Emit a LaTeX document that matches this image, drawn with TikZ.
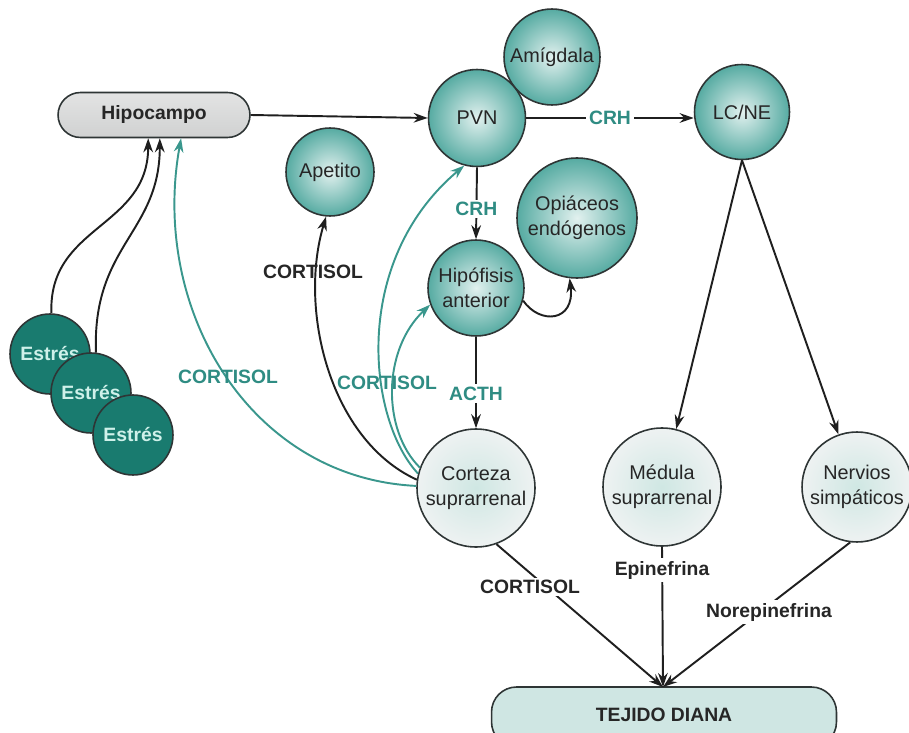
\documentclass[tikz,border=0pt]{standalone}
\usepackage{fontspec}
\setmainfont{Liberation Sans}
\usetikzlibrary{arrows.meta,calc,shapes.geometric}
\definecolor{tealline}{HTML}{3A978D}
\definecolor{tealtext}{HTML}{2F8C83}
\definecolor{tealouter}{HTML}{56ABA2}
\definecolor{tealinner}{HTML}{E2F1EF}
\definecolor{paleouter}{HTML}{EEF2F2}
\definecolor{paleinner}{HTML}{CFE7E3}
\definecolor{estresfill}{HTML}{197B6F}
\definecolor{estrestext}{HTML}{CFF1EA}
\definecolor{outline}{HTML}{2E3535}
\definecolor{hipofill}{HTML}{D0D1D1}
\definecolor{dianafill}{HTML}{CFE6E3}
\begin{document}
\begin{tikzpicture}[x=0.02cm,y=-0.02cm,
  font=\fontsize{11.3}{14}\selectfont,
  circ/.style={circle,draw=outline,line width=0.9pt,align=center,inner sep=0pt,text=black!85},
  tealcirc/.style={circ,inner color=tealinner,outer color=tealouter},
  palecirc/.style={circ,inner color=paleinner,outer color=paleouter},
  estres/.style={circle,draw=outline,line width=0.9pt,fill=estresfill,minimum size=1.6cm,inner sep=0pt,
    text=estrestext,font=\fontsize{11}{13}\bfseries},
  conn/.style={line width=1.1pt,draw=black!88,-{Stealth[length=8pt,width=5.5pt]}},
  tconn/.style={line width=1.1pt,draw=tealline,-{Stealth[length=8pt,width=5.5pt]}},
  blab/.style={font=\fontsize{11}{13}\bfseries,fill=white,inner sep=1.5pt,text=black!85},
  tlab/.style={font=\fontsize{11}{13}\bfseries,fill=white,inner sep=1.5pt,text=tealtext},
]
\useasboundingbox (0,0) rectangle (909,733);

% nodes
\node[draw=outline,line width=0.9pt,rounded corners=0.45cm,top color=hipofill!60,bottom color=hipofill,
  minimum width=3.84cm,minimum height=0.9cm,font=\fontsize{11}{13}\bfseries,text=black!85] (hipo) at (154,115) {Hipocampo};
\node[tealcirc,minimum size=1.92cm] (amig) at (552,57) {Amígdala};
\node[tealcirc,minimum size=1.94cm] (pvn) at (477,118) {PVN};
\node[tealcirc,minimum size=1.9cm] (lcne) at (742,112) {LC/NE};
\node[tealcirc,minimum size=1.76cm] (apet) at (330,172) {Apetito};
\node[tealcirc,minimum size=2.4cm] (opia) at (577,218) {Opiáceos\\endógenos};
\node[tealcirc,minimum size=1.92cm] (hipof) at (476,288) {Hipófisis\\anterior};
\node[palecirc,minimum size=2.36cm] (cort) at (476,488) {Corteza\\suprarrenal};
\node[palecirc,minimum size=2.36cm] (med) at (662,487) {Médula\\suprarrenal};
\node[palecirc,minimum size=2.2cm] (nerv) at (857,487) {Nervios\\simpáticos};
\node[draw=outline,line width=0.9pt,rounded corners=0.5cm,fill=dianafill,
  minimum width=6.9cm,minimum height=1.2cm,font=\fontsize{11}{13}\bfseries,text=black!85] (diana) at (664,717) {\raisebox{0.5ex}{TEJIDO DIANA}};
\coordinate (tip) at (663,687);

\node[estres] (e1) at (50,354) {Estrés};
\node[estres] (e2) at (91,393) {Estrés};
\node[estres] (e3) at (133,435) {Estrés};

% Estrés -> Hipocampo
\draw[conn] (e1.88) .. controls (48,225) and ($(hipo.south west)!0.47!(hipo.south east)+(0,90)$) .. ($(hipo.south west)!0.47!(hipo.south east)$);
\draw[conn] (e2.83) .. controls (92,245) and ($(hipo.south west)!0.53!(hipo.south east)+(0,95)$) .. ($(hipo.south west)!0.53!(hipo.south east)$);

% Hipocampo -> PVN
\draw[conn] (hipo.east) -- (pvn.west);
% PVN -> LC/NE
\draw[conn] (pvn.east) -- node[tlab]{CRH} (pvn.east -| lcne.west);
% PVN -> Hipofisis
\draw[conn] (pvn.south) -- node[tlab,pos=0.58]{CRH} (hipof.north);
% Hipofisis -> Corteza
\draw[conn] (hipof.south) -- node[tlab,pos=0.62]{ACTH} (cort.north);
% Hipofisis -> Opiaceos
\draw[conn] (hipof.-15) .. controls (540,325) and (575,322) .. (opia.-97);

% Cortisol feedbacks
\draw[tconn] (cort.178) .. controls (250,478) and (150,310) .. ($(hipo.south west)!0.64!(hipo.south east)$);
\draw[conn] (cort.172) .. controls (330,440) and (298,310) .. (apet.-95);
\draw[tconn] (cort.166) .. controls (368,420) and (350,262) .. (pvn.-105);
\draw[tconn] (cort.160) .. controls (382,430) and (382,350) .. (hipof.200);
\node[tlab,fill=none] at (228,377) {CORTISOL};
\node[blab,fill=none] at (313,272) {CORTISOL};
\node[tlab,fill=none] at (387,383) {CORTISOL};

% LC/NE branches
\draw[conn] (lcne.south) -- (med);
\draw[conn] (lcne.south) -- (nerv);

% to Tejido diana
\draw[conn] (cort.-70) -- (tip);
\draw[conn] (med.south) -- (tip);
\draw[conn] (nerv.-97) -- (tip);
\node[blab] at (530,587) {CORTISOL};
\node[blab] at (662,570) {Epinefrina};
\node[blab] at (769,612) {Norepinefrina};
\end{tikzpicture}
\end{document}
